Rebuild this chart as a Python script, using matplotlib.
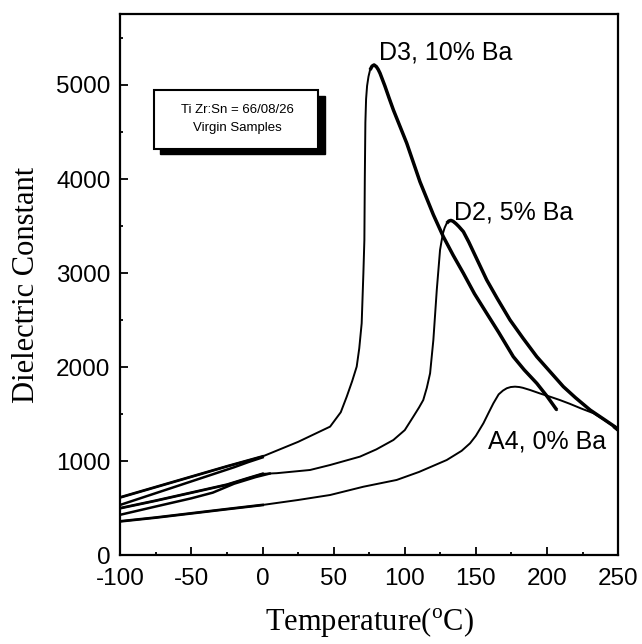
import numpy as np
import matplotlib
matplotlib.use('Agg')
import matplotlib.pyplot as plt
from matplotlib.patches import Rectangle
from matplotlib.ticker import MultipleLocator

plt.rcParams['font.family'] = ['Liberation Sans', 'DejaVu Sans']
plt.rcParams['mathtext.fontset'] = 'custom'
plt.rcParams['mathtext.rm'] = 'Liberation Serif'
plt.rcParams['axes.unicode_minus'] = False

# D3, 10% Ba: heating trace and the lower low-temperature trace
t_d3 = [-100, -75, -50, -25, 0, 25, 47.5, 55, 59.2, 63, 66.2, 68, 69.7, 70.9, 71.6,
        71.9, 72.3, 72.8, 73.5, 74.5, 75.6, 77, 78.4, 80, 81.3, 82.6, 86, 89, 92,
        101.4, 110.7, 120.1, 127.1, 134, 141.2, 149, 157.6, 166, 176.3, 184, 192.8,
        200, 206.9]
eps_d3 = [615, 725, 835, 945, 1050, 1205, 1367, 1520, 1686, 1850, 2005, 2200, 2466,
          2998, 3352, 4000, 4600, 4850, 4990, 5090, 5160, 5200, 5213, 5195, 5165,
          5125, 4990, 4860, 4734, 4380, 3970, 3620, 3387, 3190, 2998, 2780, 2572,
          2370, 2111, 1970, 1828, 1690, 1544]
t_d3_low = [-100, -75, -50, -35, -20, -10, 0]
eps_d3_low = [535, 660, 785, 860, 935, 990, 1040]

# D2, 5% Ba
t_d2 = [-100, -75, -50, -25, -10, 0, 10, 33.4, 47.5, 68.5, 80, 92, 100, 106, 110,
        113, 115.5, 117.8, 120.1, 122.5, 124.8, 126, 127, 128, 129.5, 131, 132.5,
        134, 136, 138, 141.2, 145, 150, 157.6, 165, 174, 183, 192.8, 202, 211.5,
        220, 230.3, 240, 247.8, 250]
eps_d2 = [500, 580, 665, 750, 820, 865, 872, 906, 959, 1048, 1125, 1225, 1330, 1473,
          1570, 1650, 1780, 1934, 2288, 2820, 3246, 3352, 3430, 3480, 3530, 3553,
          3560, 3550, 3525, 3495, 3440, 3330, 3170, 2927, 2730, 2501, 2310, 2111,
          1954, 1792, 1675, 1544, 1445, 1365, 1335]
t_d2_low = [-100, -75, -50, -35, -20, -5, 5]
eps_d2_low = [430, 518, 605, 665, 760, 830, 868]

# A4, 0% Ba
t_a4 = [-100, -75, -50, -25, 0, 25, 47.5, 70.9, 94.3, 110, 129.5, 140, 145.9, 150,
        155.3, 158.8, 162.3, 166, 169, 171.7, 174.5, 177.5, 180.5, 183, 188, 195,
        202, 209, 216, 224, 232.6, 240, 246.7, 250]
eps_a4 = [360, 400, 445, 490, 534, 587, 640, 728, 800, 885, 1012, 1110, 1190, 1270,
          1403, 1510, 1615, 1710, 1750, 1775, 1788, 1792, 1788, 1780, 1757, 1720,
          1686, 1650, 1610, 1560, 1510, 1440, 1370, 1330]

fig = plt.figure(figsize=(6.42, 6.44), dpi=100)
ax = fig.add_axes([0.1874, 0.1379, 0.7754, 0.8397])

for t, e in [(t_d3, eps_d3), (t_d2, eps_d2), (t_a4, eps_a4)]:
    t = np.array(t)
    e = np.array(e)
    ax.plot(t, e, color='black', lw=1.4)
    # cooling branches overlap after the peak, so they print heavier
    k = np.argmax(e) if t[np.argmax(e)] < 150 else len(t)
    ax.plot(t[k - 2:], e[k - 2:], color='black', lw=2.5, solid_capstyle='butt')
    ax.plot(t[t <= 0], e[t <= 0], color='black', lw=2.0)

ax.plot(t_d3_low, eps_d3_low, color='black', lw=1.8)
ax.plot(t_d2_low, eps_d2_low, color='black', lw=1.8)

ax.set_xlim(-100, 250)
ax.set_ylim(0, 5750)
ax.xaxis.set_major_locator(MultipleLocator(50))
ax.xaxis.set_minor_locator(MultipleLocator(25))
ax.yaxis.set_major_locator(MultipleLocator(1000))
ax.yaxis.set_minor_locator(MultipleLocator(500))
ax.tick_params(which='both', direction='in', width=1.3, labelsize=17.5,
               top=False, right=False)
ax.tick_params(axis='x', pad=9)
ax.tick_params(axis='y', pad=7)
ax.tick_params(which='major', length=5.5)
ax.tick_params(which='minor', length=2.5)
for s in ax.spines.values():
    s.set_linewidth(1.6)

ax.set_xlabel(r'Temperature($^{\mathrm{o}}$C)', family='Liberation Serif',
              fontsize=22, labelpad=11)
ax.set_ylabel('Dielectric Constant', family='Liberation Serif', fontsize=22,
              labelpad=11)

ax.text(82, 5270, 'D3, 10% Ba', fontsize=18, va='baseline')
ax.text(134.9, 3565, 'D2, 5% Ba', fontsize=18, va='baseline')
ax.text(158.8, 1137, 'A4, 0% Ba', fontsize=18, va='baseline')

# sample info box with a drop shadow
ax.add_patch(Rectangle((0.080, 0.741), 0.331, 0.108, transform=ax.transAxes,
                       facecolor='black', edgecolor='black', zorder=5))
ax.add_patch(Rectangle((0.0677, 0.752), 0.330, 0.108, transform=ax.transAxes,
                       facecolor='white', edgecolor='black', lw=1.5, zorder=6))
ax.text(0.235, 0.823, 'Ti Zr:Sn = 66/08/26', transform=ax.transAxes, fontsize=9.5,
        ha='center', va='center', zorder=7)
ax.text(0.235, 0.790, 'Virgin Samples', transform=ax.transAxes, fontsize=9.5,
        ha='center', va='center', zorder=7)

fig.savefig('out.png', dpi=100)
